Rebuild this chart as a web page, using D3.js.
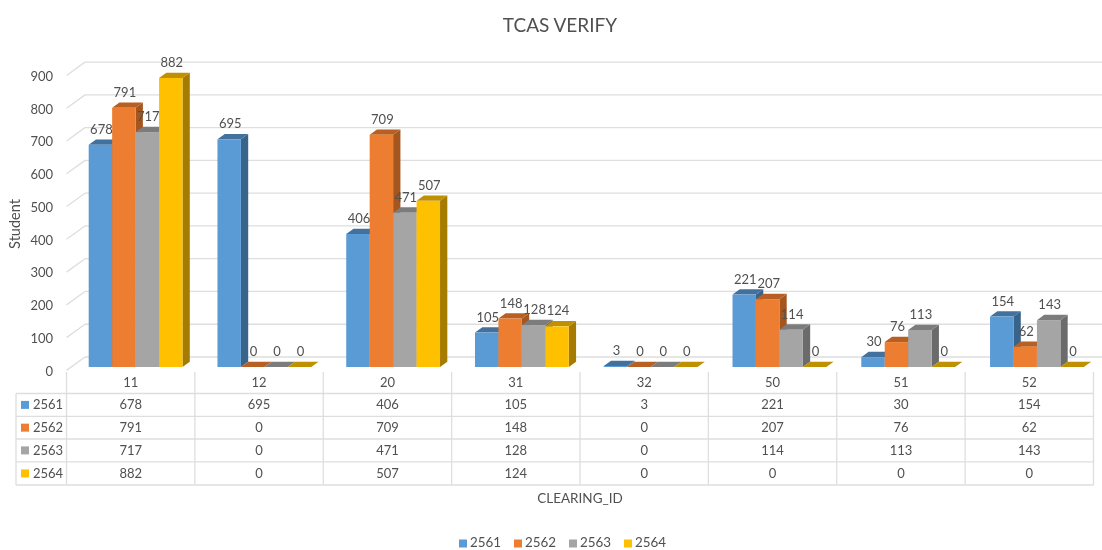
<!DOCTYPE html>
<html>
<head>
<meta charset="utf-8">
<script src="https://cdn.jsdelivr.net/npm/d3@7"></script>
<style>
    html, body { margin: 0; padding: 0; background: #fff; }
    svg { display: block; filter: blur(0.4px); }
    text { font-family: Lato, "Open Sans", sans-serif; fill: #505050; }
</style>
</head>
<body>
<div id="chart"></div>
<script>
// TCAS VERIFY: 3D clustered columns with a data table underneath
const clearingIds = ['11', '12', '20', '31', '32', '50', '51', '52'];
const seriesNames = ['2561', '2562', '2563', '2564'];
const values2561 = [678, 695, 406, 105, 3, 221, 30, 154];
const values2562 = [791, 0, 709, 148, 0, 207, 76, 62];
const values2563 = [717, 0, 471, 128, 0, 114, 113, 143];
const values2564 = [882, 0, 507, 124, 0, 0, 0, 0];
const yTicks = [0, 100, 200, 300, 400, 500, 600, 700, 800, 900];

const seriesValues = [values2561, values2562, values2563, values2564];
const frontColors = ['#5b9bd5', '#ed7d31', '#a5a5a5', '#ffc000'];
const topColors = ['#41719c', '#b85f23', '#7c7c7c', '#bf9000'];
const sideColors = ['#38648c', '#a5561f', '#6b6b6b', '#a67c00'];

const W = 1102, H = 550;
const depthX = 7.3, depthY = 5.3;   // 3D offset of the columns
const wallX = 85;                   // where the back wall starts
const gridColor = '#dedede';
const labelSize = '13px';

const svg = d3.select('#chart').append('svg').attr('width', W).attr('height', H);

// Scales. The columns sit slightly wider apart than the table cells, like in the picture
const xTable = d3.scaleBand().domain(clearingIds).range([66.5, 1093.5]);
const x0 = d3.scaleBand().domain(clearingIds).range([66.7, 1096.8]);
const x1 = d3.scaleBand().domain(seriesNames).range([22, 115.8]);
const y = d3.scaleLinear().domain([0, 900]).range([367, 72.1]);

// Title
svg.append('text')
    .attr('x', 560).attr('y', 32)
    .attr('text-anchor', 'middle')
    .style('font-size', '19px')
    .text('TCAS VERIFY');

// Back wall and side wall grid lines
yTicks.forEach(t => {
    svg.append('line')
        .attr('x1', wallX).attr('x2', 1102)
        .attr('y1', y(t) - 10).attr('y2', y(t) - 10)
        .attr('stroke', gridColor).attr('stroke-width', 1.3);
    svg.append('line')
        .attr('x1', 66.5).attr('x2', wallX)
        .attr('y1', y(t) + 3.4).attr('y2', y(t) - 10)
        .attr('stroke', gridColor).attr('stroke-width', 1.3);
});

// Y axis labels
const yAxis = svg.append('g')
    .attr('transform', 'translate(58,4)')
    .call(d3.axisLeft(y).tickValues(yTicks).tickSize(0).tickPadding(5));
yAxis.select('.domain').remove();
yAxis.selectAll('text')
    .style('font-family', 'Lato, sans-serif')
    .style('font-size', labelSize)
    .style('fill', '#505050');

svg.append('text')
    .attr('transform', 'translate(19.5,224) rotate(-90)')
    .attr('text-anchor', 'middle')
    .style('font-size', '14.5px')
    .text('Student');

// Columns, series by series within each cluster so neighbours overlap the side faces
clearingIds.forEach((id, c) => {
    const group = svg.append('g').attr('transform', `translate(${x0(id)},0)`);
    seriesNames.forEach((name, s) => {
        const v = seriesValues[s][c];
        const left = x1(name);
        const right = left + x1.bandwidth();
        const top = y(v);
        const base = y(0);

        group.append('path')
            .attr('fill', sideColors[s])
            .attr('d', `M${right},${top}L${right + depthX},${top - depthY}L${right + depthX},${base - depthY}L${right},${base}Z`);
        group.append('path')
            .attr('fill', topColors[s])
            .attr('d', `M${left},${top}L${left + depthX},${top - depthY}L${right + depthX},${top - depthY}L${right},${top}Z`);
        group.append('rect')
            .attr('x', left).attr('y', top)
            .attr('width', x1.bandwidth()).attr('height', base - top)
            .attr('fill', frontColors[s]);
    });
});

// Data labels on top of everything
clearingIds.forEach((id, c) => {
    seriesNames.forEach((name, s) => {
        const v = seriesValues[s][c];
        svg.append('text')
            .attr('x', x0(id) + x1(name) + x1.bandwidth() / 2 + 1)
            .attr('y', y(v) - 11)
            .attr('text-anchor', 'middle')
            .style('font-size', labelSize)
            .text(v);
    });
});

// Data table
const tableLeft = 16, tableRight = 1093.5;
const rowLines = [393.5, 416.3, 439, 461.8, 485];
rowLines.forEach(ry => {
    svg.append('line')
        .attr('x1', tableLeft).attr('x2', tableRight)
        .attr('y1', ry).attr('y2', ry)
        .attr('stroke', gridColor).attr('stroke-width', 1.3);
});
svg.append('line')
    .attr('x1', tableLeft).attr('x2', tableLeft)
    .attr('y1', rowLines[0]).attr('y2', rowLines[4])
    .attr('stroke', gridColor).attr('stroke-width', 1.3);
clearingIds.concat([null]).forEach(id => {
    const vx = id === null ? tableRight : xTable(id);
    svg.append('line')
        .attr('x1', vx).attr('x2', vx)
        .attr('y1', 372).attr('y2', rowLines[4])
        .attr('stroke', gridColor).attr('stroke-width', 1.3);
});

const xAxis = svg.append('g')
    .attr('transform', 'translate(0,368)')
    .call(d3.axisBottom(xTable).tickSize(0).tickPadding(10));
xAxis.select('.domain').remove();
xAxis.selectAll('text')
    .style('font-family', 'Lato, sans-serif')
    .style('font-size', labelSize)
    .style('fill', '#505050');

seriesNames.forEach((name, s) => {
    const rowMid = (rowLines[s] + rowLines[s + 1]) / 2;
    svg.append('rect')
        .attr('x', 21).attr('y', rowMid - 4)
        .attr('width', 8).attr('height', 8)
        .attr('fill', frontColors[s]);
    svg.append('text')
        .attr('x', 33).attr('y', rowMid + 4.5)
        .style('font-size', labelSize)
        .text(name);
    clearingIds.forEach((id, c) => {
        svg.append('text')
            .attr('x', xTable(id) + xTable.bandwidth() / 2)
            .attr('y', rowMid + 4.5)
            .attr('text-anchor', 'middle')
            .style('font-size', labelSize)
            .text(seriesValues[s][c]);
    });
});

svg.append('text')
    .attr('x', 580).attr('y', 503)
    .attr('text-anchor', 'middle')
    .style('font-size', '13.5px')
    .text('CLEARING_ID');

// Legend
const legendX = d3.scaleBand().domain(seriesNames).range([459, 679]);
seriesNames.forEach((name, s) => {
    svg.append('rect')
        .attr('x', legendX(name)).attr('y', 539.5)
        .attr('width', 8).attr('height', 8)
        .attr('fill', frontColors[s]);
    svg.append('text')
        .attr('x', legendX(name) + 11).attr('y', 547)
        .style('font-size', '13.4px')
        .text(name);
});
</script>
</body>
</html>
